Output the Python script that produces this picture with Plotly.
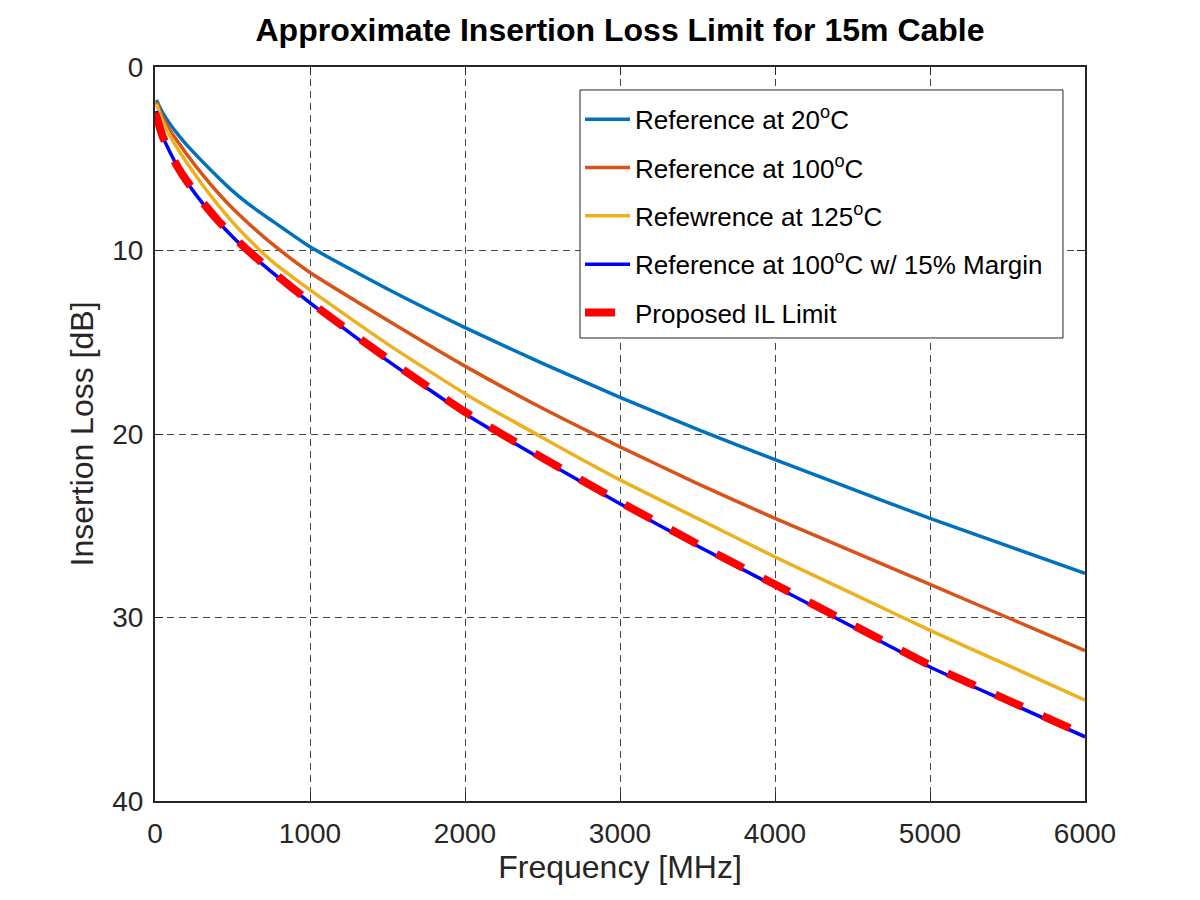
import plotly.graph_objects as go

# frequency points [MHz] and insertion loss readings [dB]
freq = [10, 25, 50, 100, 150, 200, 300, 400, 500, 600, 750, 1000, 1500,
        2000, 2500, 3000, 3500, 4000, 4500, 5000, 5500, 6000]
il_20c = [1.8, 2.1, 2.5, 3.15, 3.7, 4.2, 5.1, 5.95, 6.75, 7.45, 8.35, 9.8,
          12.1, 14.2, 16.15, 18.0, 19.75, 21.4, 23.0, 24.6, 26.1, 27.6]
il_100c = [1.9, 2.25, 2.75, 3.5, 4.1, 4.7, 5.8, 6.8, 7.7, 8.5, 9.6, 11.2,
           13.8, 16.3, 18.6, 20.7, 22.7, 24.6, 26.4, 28.2, 30.0, 31.8]
il_125c = [2.0, 2.4, 2.95, 3.8, 4.5, 5.15, 6.35, 7.45, 8.45, 9.35, 10.55, 12.15,
           15.1, 17.8, 20.2, 22.5, 24.6, 26.7, 28.7, 30.7, 32.6, 34.5]
il_margin = [2.4, 3.1, 3.8, 4.7, 5.5, 6.2, 7.35, 8.35, 9.25, 10.05, 11.15, 12.85,
             16.0, 18.9, 21.4, 23.8, 26.1, 28.3, 30.5, 32.7, 34.6, 36.5]

limit_freq = [1, 25, 50, 100, 150, 200, 300, 400, 500, 600, 750, 1000, 1500,
              2000, 2500, 3000, 3500, 4000, 4500, 5000, 5500, 6000]
il_limit = [2.5, 3.15, 3.8, 4.7, 5.5, 6.15, 7.3, 8.3, 9.2, 10.0, 11.1, 12.8,
            15.9, 18.8, 21.3, 23.7, 26.0, 28.2, 30.4, 32.6, 34.5, 36.4]

x_ticks = [0, 1000, 2000, 3000, 4000, 5000, 6000]
y_ticks = [0, 10, 20, 30, 40]

series = [
    ("Reference at 20<sup>o</sup>C", freq, il_20c, "#0072BD", 3.5, "solid"),
    ("Reference at 100<sup>o</sup>C", freq, il_100c, "#D95319", 3.5, "solid"),
    ("Refewrence at 125<sup>o</sup>C", freq, il_125c, "#EDB120", 3.5, "solid"),
    ("Reference at 100<sup>o</sup>C w/ 15% Margin", freq, il_margin, "#0000FF", 3.5, "solid"),
    ("Proposed IL Limit", limit_freq, il_limit, "#FF0000", 8, "30px,22px"),
]

fig = go.Figure()
for i, (name, xs, ys, col, w, dash) in enumerate(series):
    fig.add_trace(go.Scatter(x=xs, y=ys, mode="lines", name=name,
                             legendgroup=str(i),
                             line=dict(color=col, width=w, dash=dash,
                                       shape="spline", smoothing=0.5)))

axis_common = dict(
    showline=True, linecolor="#262626", linewidth=2, mirror="allticks",
    ticks="inside", ticklen=8, tickcolor="#262626", tickwidth=1,
    showgrid=True, gridcolor="#444444", gridwidth=1.2, griddash="7px,5px",
    zeroline=False, tickfont=dict(size=28, color="#262626"),
)

fig.update_xaxes(range=[0, 6000], tickvals=x_ticks, ticklabelstandoff=6,
                 title=dict(text="Frequency [MHz]", font=dict(size=32, color="#262626"),
                            standoff=5),
                 **axis_common)
fig.update_yaxes(range=[40, 0], tickvals=y_ticks, ticklabelstandoff=4,
                 title=dict(text="Insertion Loss [dB]", font=dict(size=32, color="#262626"),
                            standoff=9),
                 **axis_common)

# legend box (white, covers the curves beneath it)
fig.add_shape(type="rect", xref="x domain", yref="y domain",
              x0=0.457, x1=0.9763, y0=0.6308, y1=0.9687,
              line=dict(color="#262626", width=1), fillcolor="white", layer="above")

# page body has an 8px default margin, so offsets are shifted by 8px
fig.update_layout(
    width=1200, height=900,
    margin=dict(l=147, r=123, t=59, b=107),
    paper_bgcolor="white", plot_bgcolor="white",
    font=dict(family="Liberation Sans, Arial, sans-serif"),
    title=dict(text="<b>Approximate Insertion Loss Limit for 15m Cable</b>",
               xref="paper", x=0.5, xanchor="center", y=0.9756, yanchor="middle",
               font=dict(size=32, color="black")),
    showlegend=True,
    legend=dict(x=0.457, xanchor="left", y=0.9607, yanchor="top",
                bgcolor="rgba(0,0,0,0)", borderwidth=0,
                font=dict(size=26, color="black"), itemwidth=45,
                traceorder="grouped", tracegroupgap=11.5),
)

fig.write_html("out.html")
